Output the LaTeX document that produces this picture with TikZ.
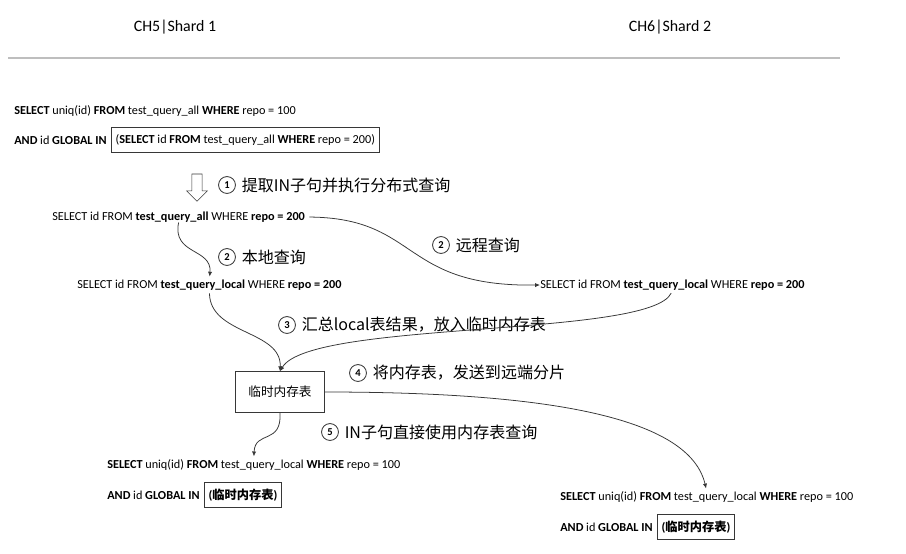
\documentclass[tikz,border=0pt]{standalone}
\usepackage{fontspec}
\setmainfont{Carlito}
\newfontfamily\cjk{Noto Sans CJK SC}
\usetikzlibrary{arrows.meta, positioning, shapes.arrows}
\definecolor{lgray}{RGB}{190,190,190}
\definecolor{dgray}{RGB}{55,55,55}

\begin{document}
\begin{tikzpicture}[x=0.025cm, y=-0.025cm,
  head/.style={inner sep=0pt, font=\fontsize{11.3}{12}\selectfont},
  sql/.style={inner sep=0pt, anchor=west, font=\fontsize{8.7}{9}\selectfont},
  inbox/.style={draw=dgray, inner xsep=3pt, minimum height=18pt,
    font=\fontsize{8.7}{9}\selectfont},
  num/.style={circle, draw=dgray, line width=0.6pt, inner sep=0pt, minimum size=12pt,
    font=\fontsize{7.5}{7.5}\selectfont\bfseries},
  lbl/.style={inner sep=0pt, font=\cjk\fontsize{11.4}{13}\selectfont},
  memt/.style={draw=dgray, minimum width=2.22cm, minimum height=1.02cm,
    font=\cjk\fontsize{9}{10}\selectfont},
  arr/.style={-{Latex[length=3.5pt,width=3pt]}, draw=dgray, line width=0.55pt}
]
  \useasboundingbox (0,0) rectangle (906,553);

  % shard headers
  \node[head] (ch5) at (175,27) {CH5|Shard 1};
  \node[head] (ch6) at (670,27) {CH6|Shard 2};
  \draw[lgray, line width=1.5pt] (8,58) -- (840,58);

  % original query
  \node[sql] (q1) at (14,111) {\textbf{SELECT} uniq(id) \textbf{FROM} test\_query\_all \textbf{WHERE} repo = 100};
  \node[sql] (q2) at (14,140) {\textbf{AND} id \textbf{GLOBAL IN}};
  \node[inbox, right=3pt of q2] (sub) {(\textbf{SELECT} id \textbf{FROM} test\_query\_all \textbf{WHERE} repo = 200)};

  \node[single arrow, draw=dgray, shape border rotate=270, inner sep=3.5pt,
    minimum height=0.68cm, single arrow head extend=0.13cm] (dn) at (197,185) {};
  \node[num] (n1) at (227,185) {1};
  \node[lbl, right=4pt of n1] (t1) {提取IN子句并执行分布式查询};

  % sub query
  \node[sql] (tqa) at (52,217) {SELECT id FROM \textbf{test\_query\_all} WHERE \textbf{repo = 200}};
  \node[sql] (loc1) at (77,285) {SELECT id FROM \textbf{test\_query\_local} WHERE \textbf{repo = 200}};
  \node[sql] (loc2) at (540,285) {SELECT id FROM \textbf{test\_query\_local} WHERE \textbf{repo = 200}};

  \node[num] (n2a) at (227,257) {2};
  \node[lbl, right=4pt of n2a] (t2a) {本地查询};
  \node[num] (n2b) at (441,245) {2};
  \node[lbl, right=4pt of n2b] (t2b) {远程查询};
  \node[num] (n3) at (287,325) {3};
  \node[lbl, right=4pt of n3] (t3) {汇总local表结果，放入临时内存表};

  % temp table
  \node[memt] (mem) at (280,392) {临时内存表};
  \node[num] (n4) at (358,373) {4};
  \node[lbl, right=4pt of n4] (t4) {将内存表，发送到远端分片};
  \node[num] (n5) at (330,432) {5};
  \node[lbl, right=4pt of n5] (t5) {IN子句直接使用内存表查询};

  % final queries
  \node[sql] (f1a) at (107,465) {\textbf{SELECT} uniq(id) \textbf{FROM} test\_query\_local \textbf{WHERE} repo = 100};
  \node[sql] (f1b) at (107,495) {\textbf{AND} id \textbf{GLOBAL IN}};
  \node[inbox, right=3pt of f1b] (f1c) {\textbf{(}{\cjk\bfseries 临时内存表}\textbf{)}};
  \node[sql] (f2a) at (560,497) {\textbf{SELECT} uniq(id) \textbf{FROM} test\_query\_local \textbf{WHERE} repo = 100};
  \node[sql] (f2b) at (560,527) {\textbf{AND} id \textbf{GLOBAL IN}};
  \node[inbox, right=3pt of f2b] (f2c) {\textbf{(}{\cjk\bfseries 临时内存表}\textbf{)}};

  \draw[arr, shorten <=3pt] (tqa.east) .. controls (420,218) and (400,287) .. (loc2.west);
  \draw[arr, shorten >=2pt] (tqa.south) .. controls (172,255) and (212,248) .. (loc1.north);
  \draw[arr, shorten <=2pt] (loc1.south) .. controls (210,335) and (282,330) .. (mem.north);
  \draw[arr, shorten <=2pt] (loc2.south) .. controls (650,338) and (310,320) .. (mem.north);
  \draw[arr, shorten >=2pt] (mem.east) .. controls (560,392) and (690,420) .. (f2a.north);
  \draw[arr, shorten >=2pt] (mem.south) .. controls (282,445) and (255,430) .. (f1a.north);
\end{tikzpicture}
\end{document}
